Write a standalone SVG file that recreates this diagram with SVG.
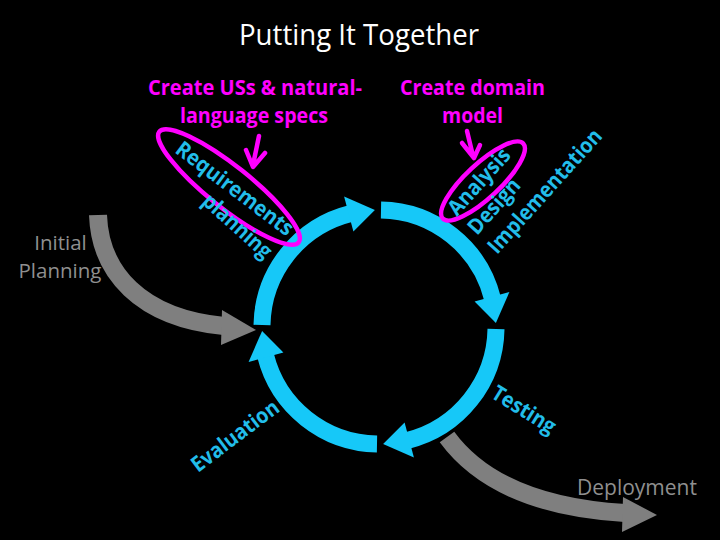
<svg xmlns="http://www.w3.org/2000/svg" width="720" height="540" viewBox="0 0 720 540">
<style>
.t{font-family:"Open Sans","Liberation Sans",sans-serif}
.title{font-size:30px;fill:#ffffff}
.mag{font-size:20.5px;font-weight:bold;fill:#FF00FF}
.cy{font-size:21.5px;font-weight:bold;fill:#22BDEA}
.gr{font-size:20.5px;fill:#8F8F8F}
.arc{fill:none;stroke:#16C8F8;stroke-width:17}
.head{fill:#16C8F8}
.garc{fill:none;stroke:#7F7F7F;stroke-width:18}
.ghead{fill:#7F7F7F}
.ell{fill:none;stroke:#FF00FF;stroke-width:4.5}
.marr{fill:none;stroke:#FF00FF;stroke-width:4.5;stroke-linecap:round;stroke-linejoin:round}
</style>
<rect width="720" height="540" fill="#000000"/>
<text class="t title" x="359" y="45" text-anchor="middle" textLength="240" lengthAdjust="spacingAndGlyphs">Putting It Together</text>

<g id="connectors">
  <g id="cycle">
    <path class="arc" d="M 262.0 325.0 A 117 117 0 0 1 350.7 213.5"/>
    <polygon class="head" points="353.4,231.4 344.1,196.6 374.9,210.1"/>
    <path class="arc" d="M 381.0 210.0 A 117 117 0 0 1 492.5 298.7"/>
    <polygon class="head" points="474.6,301.4 509.4,292.1 495.9,322.9"/>
    <path class="arc" d="M 496.0 329.0 A 117 117 0 0 1 407.3 440.5"/>
    <polygon class="head" points="404.6,422.6 413.9,457.4 383.1,443.9"/>
    <path class="arc" d="M 377.0 444.0 A 117 117 0 0 1 265.5 355.3"/>
    <polygon class="head" points="283.4,352.6 248.6,361.9 262.1,331.1"/>
  </g>
  <g id="initial-arrow">
    <path class="garc" d="M 98 215 C 100 272, 140 318, 224 326"/>
    <polygon class="ghead" points="222,310 256,330 221,345"/>
  </g>
  <g id="deploy-arrow">
    <path class="garc" d="M 447 437 C 480 482, 540 508, 625 513"/>
    <polygon class="ghead" points="623,497 657,515 622,532"/>
  </g>
  <g id="magenta-arrows">
    <path class="marr" d="M 259 136 L 253 165 M 246 150 L 253 167 L 265 153"/>
    <path class="marr" d="M 467 131 L 473 156 M 462 143 L 474 158 L 480 145"/>
  </g>
</g>

<g id="label-uss">
  <text class="t mag" x="255" y="95" text-anchor="middle" textLength="214" lengthAdjust="spacingAndGlyphs">Create USs &amp; natural-</text>
  <text class="t mag" x="254" y="123" text-anchor="middle" textLength="148" lengthAdjust="spacingAndGlyphs">language specs</text>
</g>
<g id="label-domain">
  <text class="t mag" x="472.5" y="95" text-anchor="middle" textLength="145" lengthAdjust="spacingAndGlyphs">Create domain</text>
  <text class="t mag" x="472.5" y="123" text-anchor="middle" textLength="61" lengthAdjust="spacingAndGlyphs">model</text>
</g>

<g id="requirements">
  <ellipse class="ell" cx="229" cy="187" rx="89" ry="21" transform="rotate(38.5 229 187)"/>
  <text class="t cy" x="174" y="152" transform="rotate(37 174 152)" textLength="141" lengthAdjust="spacingAndGlyphs">Requirements</text>
  <text class="t cy" x="201" y="203" transform="rotate(42 201 203)" textLength="85" lengthAdjust="spacingAndGlyphs">planning</text>
</g>

<g id="analysis">
  <ellipse class="ell" cx="483" cy="181" rx="55" ry="17" transform="rotate(-43 483 181)"/>
  <text class="t cy" x="457" y="217" transform="rotate(-48 457 217)" textLength="82" lengthAdjust="spacingAndGlyphs">Analysis</text>
  <text class="t cy" x="477" y="236" transform="rotate(-48 477 236)" textLength="67" lengthAdjust="spacingAndGlyphs">Design</text>
  <text class="t cy" x="497" y="255" transform="rotate(-48 497 255)" textLength="159" lengthAdjust="spacingAndGlyphs">Implementation</text>
</g>

<g id="testing">
  <text class="t cy" x="490" y="397" transform="rotate(32 490 397)" textLength="71" lengthAdjust="spacingAndGlyphs">Testing</text>
</g>

<g id="evaluation">
  <text class="t cy" x="198" y="473" transform="rotate(-37 198 473)" textLength="104" lengthAdjust="spacingAndGlyphs">Evaluation</text>
</g>

<g id="initial-planning">
  <text class="t gr" x="60.5" y="250" text-anchor="middle">Initial</text>
  <text class="t gr" x="60" y="278" text-anchor="middle">Planning</text>
</g>

<g id="deployment">
  <text class="t gr" x="577" y="495" style="font-size:21px">Deployment</text>
</g>
</svg>
